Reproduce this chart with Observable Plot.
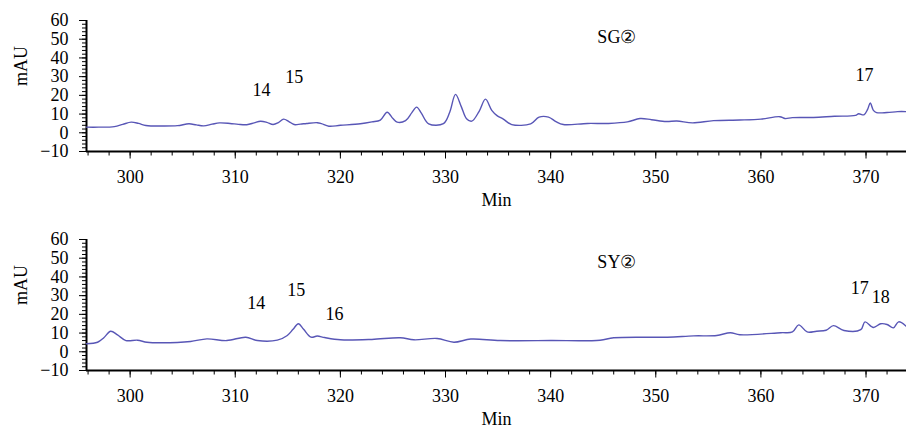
<!DOCTYPE html>
<html>
<head>
<meta charset="utf-8">
<script src="https://cdn.jsdelivr.net/npm/d3@7"></script>
<script src="https://cdn.jsdelivr.net/npm/@observablehq/plot@0.6"></script>
<style>
  html, body { margin: 0; padding: 0; background: #fff; }
  #chart { width: 906px; }
  #chart svg { display: block; }
  #chart svg, #chart svg text { font-family: 'Liberation Serif', 'Times New Roman', serif !important; }
</style>
</head>
<body>
<div id="chart"></div>
<script>
// ---- data ----
const xDomain = [295.85, 373.85];
const yDomain = [-10, 60];
const xMajorTicks = [300, 310, 320, 330, 340, 350, 360, 370];
const yMajorTicks = [-10, 0, 10, 20, 30, 40, 50, 60];

// Panel 1: SG②
const sgTitle = "SG②";
const sgTitlePos = [346.3, 51];
const sgTime = [295.85,297.0,298.5,299.3,300.1,300.8,301.5,303.0,304.5,305.6,306.3,307.0,307.8,308.5,309.5,310.3,311.1,311.8,312.4,313.0,313.6,314.1,314.6,315.1,315.6,316.2,316.8,317.8,318.2,318.9,320.0,321.9,323.0,323.8,324.45,325.0,325.4,326.2,326.8,327.25,327.7,328.4,329.8,330.4,330.95,331.5,332.0,332.5,333.2,333.8,334.4,334.9,335.5,336.3,338.1,338.9,339.8,340.5,341.2,343.5,345.5,347.3,348.5,349.6,351.0,352.0,353.5,355.5,358.0,360.0,361.8,362.3,363.0,365.0,367.0,369.0,369.3,369.8,370.15,370.4,370.7,371.0,372.0,373.0,373.85];
const sgValue = [3.0,3.0,3.3,4.5,5.7,5.0,3.9,3.6,3.8,4.8,4.2,3.7,4.6,5.3,5.0,4.5,4.3,5.3,6.2,5.6,4.4,5.4,7.3,6.0,4.4,4.6,5.0,5.4,4.9,3.5,4.0,4.8,5.8,6.8,11.0,7.6,5.7,6.5,10.8,13.7,10.5,4.8,4.9,11.0,20.5,14.0,7.5,6.2,11.5,18.0,12.0,9.2,7.3,4.4,4.8,8.4,8.4,6.0,4.4,5.0,5.0,5.8,7.6,7.0,6.0,6.3,5.3,6.5,6.8,7.3,8.6,7.6,8.1,8.2,8.8,9.3,10.2,9.6,12.5,15.9,12.0,10.8,10.8,11.3,11.3];
const sgPeakLabels = ["14", "15", "17"];
const sgPeakX = [312.5, 315.6, 369.85];
const sgPeakY = [22.9, 29.8, 30.9];

// Panel 2: SY②
const syTitle = "SY②";
const syTitlePos = [346.3, 48];
const syTime = [295.85,296.9,297.5,298.15,298.8,299.6,300.7,301.6,303.0,305.75,307.3,309.2,311.0,312.1,314.0,314.95,315.5,316.0,316.5,317.2,317.8,318.5,320.0,323.0,325.7,327.0,329.2,330.8,332.4,335.2,340.0,344.7,346.0,351.1,353.6,355.8,357.1,358.0,361.9,363.0,363.6,364.4,365.3,366.2,366.9,367.9,369.5,369.9,370.7,371.4,372.0,372.6,373.1,373.85];
const syValue = [4.3,5.1,7.5,11.0,9.0,6.0,6.2,5.1,4.8,5.5,6.9,6.0,7.8,6.0,6.2,8.7,12.0,15.0,12.0,7.8,8.4,7.6,6.4,6.6,7.5,6.4,7.1,5.1,6.8,6.0,6.0,6.2,7.5,7.8,8.5,8.7,10.2,9.1,10.2,10.6,14.4,10.6,11.0,11.5,14.0,11.4,11.8,16.0,13.0,15.0,14.6,12.8,16.0,13.5];
const syPeakLabels = ["14", "15", "16", "17", "18"];
const syPeakX = [312.0, 315.8, 319.45, 369.4, 371.4];
const syPeakY = [25.8, 33.0, 20.2, 34.1, 29.3];

const xLabel = "Min";
const yLabel = "mAU";

// ---- drawing ----
const FONT = "'Liberation Serif', 'Times New Roman', serif";
const LINE = "#5856b6";
const FS = 18;

function panel(times, values, title, titlePos, labels, lx, ly, height, marginBottom) {
  const rows = times.map((t, i) => ({t, v: values[i]}));
  const peaks = labels.map((s, i) => ({s, x: lx[i], y: ly[i]}));
  return Plot.plot({
    width: 906,
    height,
    marginLeft: 86,
    marginRight: 0,
    marginTop: 20,
    marginBottom,
    style: {fontFamily: FONT, fontSize: FS + "px", color: "black", background: "white"},
    x: {domain: xDomain},
    y: {domain: yDomain},
    marks: [
      // minor ticks
      Plot.axisX({ticks: d3.range(296, 374, 2), tickSize: 4.5, tickFormat: () => "", label: null}),
      Plot.axisY({ticks: d3.range(-10, 61, 2), tickSize: 4, tickFormat: () => "", label: null}),
      // major ticks with labels
      Plot.axisX({ticks: xMajorTicks, tickSize: 7.5, tickPadding: 11, fontSize: FS, label: null}),
      Plot.axisY({ticks: yMajorTicks, tickSize: 7, tickPadding: 11, fontSize: FS, label: null}),
      // axis lines
      Plot.ruleY([yDomain[0]], {strokeWidth: 2}),
      Plot.ruleX([xDomain[0]], {strokeWidth: 2}),
      // axis titles
      Plot.text([xLabel], {text: d => d, frameAnchor: "bottom", dy: 49, lineAnchor: "middle", fontSize: FS}),
      Plot.text([yLabel], {text: d => d, frameAnchor: "left", dx: -65, rotate: -90, lineAnchor: "middle", fontSize: FS}),
      // trace
      Plot.line(rows, {x: "t", y: "v", stroke: LINE, strokeWidth: 1.4, curve: "catmull-rom"}),
      // labels
      Plot.text(peaks, {x: "x", y: "y", text: "s", fontSize: FS}),
      Plot.text([title], {x: () => titlePos[0], y: () => titlePos[1], text: d => d, fontSize: FS})
    ]
  });
}

const chart = document.getElementById("chart");
chart.append(panel(sgTime, sgValue, sgTitle, sgTitlePos, sgPeakLabels, sgPeakX, sgPeakY, 219, 68));
chart.append(panel(syTime, syValue, syTitle, syTitlePos, syPeakLabels, syPeakX, syPeakY, 211, 60));
</script>
</body>
</html>
